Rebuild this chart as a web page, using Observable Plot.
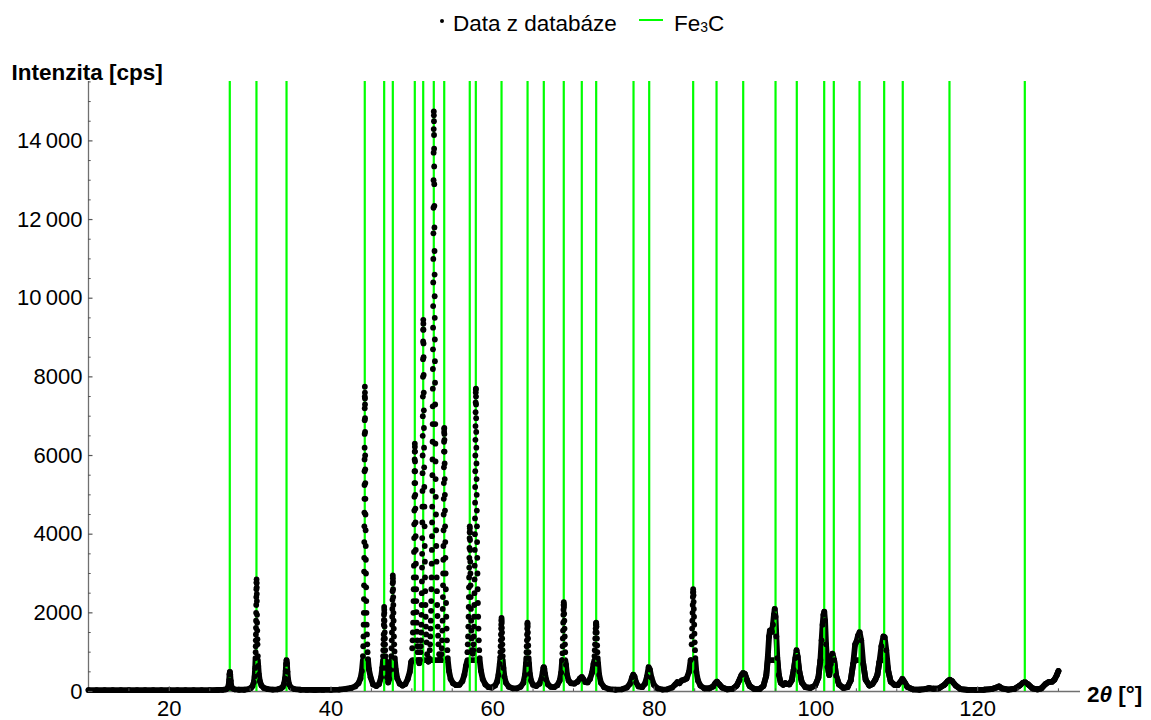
<!DOCTYPE html>
<html>
<head>
<meta charset="utf-8">
<script src="https://cdn.jsdelivr.net/npm/d3@7"></script>
<script src="https://cdn.jsdelivr.net/npm/@observablehq/plot@0.6"></script>
<style>
html, body { margin: 0; padding: 0; background: #fff; }
#wrap { position: relative; width: 1151px; height: 720px; font-family: "Liberation Sans", Arial, sans-serif; color: #000; }
#legend { position: relative; height: 46px; font-size: 22.5px; line-height: 26px; }
#legend .dot { position: absolute; left: 439.5px; top: 18.8px; width: 4.6px; height: 4.6px; border-radius: 50%; background: #000; }
#legend .t1 { position: absolute; left: 453px; top: 11px; white-space: nowrap; }
#legend .sw { position: absolute; left: 639px; top: 18.5px; width: 24px; height: 2.4px; background: #00ff00; }
#legend .t2 { position: absolute; left: 674px; top: 11px; white-space: nowrap; }
#legend .t2 span { font-size: 0.62em; vertical-align: -1px; }
#chart svg { display: block; }
</style>
</head>
<body>
<div id="wrap">
  <div id="legend">
    <div class="dot"></div><div class="t1">Data z databáze</div>
    <div class="sw"></div><div class="t2">Fe<span>3</span>C</div>
  </div>
  <div id="chart"></div>
</div>
<script>
// ---- Data ----
// Diffraction scan: [2θ (°), intensity (cps)]
const scan = [
[10,35],[11,35],[12,35],[13,35],[14,35],[15,35],[16,35],[17,35],[18,35],[19,35],[20,35],[21,35],[22,35],[23,35],[24,35],[25,35],[26,38],[26.6,42],[27.0,55],[27.2,80],[27.32,140],[27.4,280],[27.45,440],[27.49,500],[27.53,430],[27.59,270],[27.67,140],[27.8,80],[28.1,55],[28.6,45],[29.3,45],[29.8,60],[30.1,90],
[30.3,140],[30.45,230],[30.55,380],[30.62,600],[30.66,850],[30.68,1000],[30.69,1150],[30.70,1300],[30.71,1450],[30.72,1620],[30.73,1800],[30.74,2000],[30.75,2200],[30.76,2400],[30.77,2600],[30.78,2780],[30.79,2850],[30.80,2750],[30.81,2650],[30.82,2480],[30.83,2300],[30.85,1950],[30.86,1750],[30.88,1550],[30.90,1330],[30.91,1200],[30.95,900],[31.0,650],[31.08,430],[31.2,260],[31.4,150],[31.7,90],[32.2,60],[32.8,50],[33.4,55],[33.8,80],[34.05,120],
[34.2,200],[34.32,330],[34.4,520],[34.45,700],[34.5,800],[34.55,720],[34.61,500],[34.7,300],[34.82,180],[35.05,100],[35.5,60],[36.2,45],[37,40],[38,38],[39,40],[40,42],[41,50],[41.8,65],[42.5,90],[43.0,130],[43.4,210],[43.65,330],[43.82,520],
[43.95,900],[43.99,1150],[44.02,1400],[44.04,1700],[44.06,2000],[44.075,2350],[44.09,2700],[44.10,3050],[44.11,3400],[44.12,3800],[44.13,4200],[44.135,4550],[44.14,4900],[44.145,5250],[44.15,5600],[44.155,5900],[44.16,6200],[44.165,6550],[44.17,6900],[44.175,7200],[44.18,7500],[44.19,7750],[44.2,7600],[44.205,7450],[44.21,7300],[44.215,6950],[44.22,6600],[44.23,6000],[44.24,5650],[44.25,5300],[44.26,4900],[44.27,4500],[44.285,4100],[44.3,3700],[44.315,3350],[44.33,3000],[44.35,2650],[44.37,2300],[44.395,2000],[44.42,1700],[44.45,1450],[44.49,1200],[44.53,1000],[44.58,820],[44.7,560],[44.9,360],[45.2,180],[45.6,140],[45.95,190],[46.2,360],[46.35,600],
[46.44,900],[46.47,1050],[46.49,1200],[46.51,1330],[46.52,1450],[46.54,1700],[46.55,1820],[46.56,1950],[46.58,2150],[46.59,2080],[46.6,2000],[46.62,1800],[46.63,1650],[46.65,1500],[46.67,1350],[46.69,1200],[46.71,1050],[46.74,900],[46.82,600],[46.93,360],[47.08,230],[47.22,320],[47.35,550],
[47.46,900],[47.49,1100],[47.52,1300],[47.54,1500],[47.56,1700],[47.575,1900],[47.59,2100],[47.605,2330],[47.62,2550],[47.635,2750],[47.65,2950],[47.66,2880],[47.67,2800],[47.685,2600],[47.7,2400],[47.715,2200],[47.73,2000],[47.75,1800],[47.77,1600],[47.79,1400],[47.82,1200],[47.86,1020],[47.9,850],[48.02,550],[48.2,330],[48.5,200],[48.85,150],[49.2,190],[49.5,320],[49.75,500],[49.92,750],
[50.05,1100],[50.09,1300],[50.13,1500],[50.16,1750],[50.19,2000],[50.21,2300],[50.23,2600],[50.245,2900],[50.26,3200],[50.275,3550],[50.29,3900],[50.3,4250],[50.31,4600],[50.32,4950],[50.33,5300],[50.34,5600],[50.35,5900],[50.36,6100],[50.37,6300],[50.38,6220],[50.39,6100],[50.4,5850],[50.41,5600],[50.42,5300],[50.43,5000],[50.445,4650],[50.46,4300],[50.475,3950],[50.49,3600],[50.505,3250],[50.52,2900],[50.54,2600],[50.56,2300],[50.585,2020],[50.61,1750],[50.64,1520],[50.67,1300],[50.7,1150],[50.74,1000],[50.83,800],[50.92,720],
[51.0,800],[51.07,1000],[51.1,1150],[51.13,1300],[51.16,1500],[51.18,1700],[51.2,1950],[51.22,2200],[51.235,2500],[51.25,2800],[51.265,3150],[51.28,3500],[51.29,3900],[51.3,4300],[51.31,4700],[51.32,5100],[51.33,5550],[51.34,6000],[51.35,6500],[51.36,7000],[51.37,7500],[51.38,8000],[51.39,8450],[51.4,8900],[51.41,9200],[51.42,9450],[51.43,9350],[51.44,9200],[51.45,8850],[51.46,8500],[51.47,8050],[51.48,7600],[51.49,7150],[51.5,6700],[51.515,6200],[51.53,5700],[51.545,5200],[51.56,4700],[51.58,4200],[51.6,3700],[51.62,3300],[51.64,2900],[51.665,2550],[51.69,2200],[51.72,1900],[51.75,1650],[51.78,1450],[51.82,1250],[51.9,950],[51.98,780],[52.06,760],
[52.14,850],[52.22,1050],[52.26,1200],[52.29,1400],[52.32,1600],[52.35,1800],[52.38,2050],[52.4,2300],[52.42,2600],[52.44,2900],[52.46,3250],[52.48,3600],[52.495,3950],[52.51,4300],[52.525,4700],[52.54,5100],[52.55,5500],[52.56,5900],[52.57,6350],[52.58,6800],[52.59,7250],[52.6,7700],[52.61,8200],[52.62,8700],[52.63,9250],[52.64,9800],[52.65,10400],[52.66,11000],[52.67,11650],[52.68,12300],[52.69,13000],[52.7,13700],[52.71,14300],[52.72,14750],[52.73,14650],[52.74,14500],[52.75,14150],[52.76,13800],[52.77,13350],[52.78,12900],[52.79,12350],[52.8,11800],[52.81,11200],[52.82,10600],[52.83,10050],[52.84,9500],[52.85,8950],[52.86,8400],[52.875,7850],[52.89,7300],[52.905,6800],[52.92,6300],[52.935,5850],[52.95,5400],[52.97,4950],[52.99,4500],[53.01,4100],[53.03,3700],[53.055,3300],[53.08,2900],[53.11,2550],[53.14,2200],[53.175,1920],[53.21,1650],[53.25,1420],[53.29,1200],[53.38,950],[53.48,820],[53.57,800],
[53.66,950],[53.7,1100],[53.74,1300],[53.77,1550],[53.8,1800],[53.825,2100],[53.85,2400],[53.865,2700],[53.88,3000],[53.895,3350],[53.91,3700],[53.925,4100],[53.94,4500],[53.95,4900],[53.96,5300],[53.97,5700],[53.98,6100],[53.99,6350],[54.0,6600],[54.01,6680],[54.02,6700],[54.03,6550],[54.04,6400],[54.05,6100],[54.06,5800],[54.075,5400],[54.09,5000],[54.105,4600],[54.12,4200],[54.14,3800],[54.16,3400],[54.185,3000],[54.21,2600],[54.24,2250],[54.27,1900],[54.31,1600],[54.35,1300],[54.4,1050],[54.45,850],[54.6,520],[54.8,320],[55.1,210],[55.5,160],[55.9,170],[56.25,260],[56.5,420],[56.7,650],
[56.88,1000],[56.92,1200],[56.96,1400],[56.99,1650],[57.02,1900],[57.04,2150],[57.06,2400],[57.075,2650],[57.09,2900],[57.105,3150],[57.12,3400],[57.135,3650],[57.15,3900],[57.16,4050],[57.17,4200],[57.18,4150],[57.19,4050],[57.205,3850],[57.22,3600],[57.235,3300],[57.25,3000],[57.27,2700],[57.29,2400],[57.315,2100],[57.34,1800],[57.37,1550],[57.4,1350],[57.47,1050],[57.54,960],
[57.6,1050],[57.63,1200],[57.66,1400],[57.685,1650],[57.71,1900],[57.73,2200],[57.75,2500],[57.765,2850],[57.78,3200],[57.795,3600],[57.81,4000],[57.82,4400],[57.83,4800],[57.84,5200],[57.85,5600],[57.86,6000],[57.87,6400],[57.88,6750],[57.89,7100],[57.9,7350],[57.91,7600],[57.92,7680],[57.93,7700],[57.94,7500],[57.95,7300],[57.96,6950],[57.97,6600],[57.985,6200],[58.0,5800],[58.015,5400],[58.03,5000],[58.045,4600],[58.06,4200],[58.08,3800],[58.1,3400],[58.125,3000],[58.15,2600],[58.18,2250],[58.21,1900],[58.25,1600],[58.29,1300],[58.34,1050],[58.4,850],[58.55,530],[58.78,310],[59.1,180],[59.5,110],[59.9,100],[60.3,150],[60.55,250],[60.72,420],
[60.88,700],[60.93,870],[60.96,1000],[60.99,1150],[61.01,1300],[61.03,1450],[61.05,1600],[61.065,1700],[61.08,1800],[61.1,1870],[61.115,1820],[61.13,1750],[61.145,1620],[61.16,1500],[61.18,1350],[61.2,1200],[61.225,1050],[61.25,900],[61.33,600],[61.45,380],[61.65,220],[62.0,120],[62.5,80],[63.0,80],[63.45,120],[63.8,220],[64.0,420],
[64.12,700],[64.16,850],[64.19,1000],[64.215,1150],[64.24,1300],[64.26,1450],[64.28,1600],[64.295,1700],[64.31,1750],[64.325,1720],[64.34,1650],[64.36,1500],[64.38,1350],[64.405,1170],[64.43,1000],[64.46,850],[64.5,700],[64.6,450],[64.75,280],[65.0,170],[65.4,140],[65.8,200],[66.05,330],
[66.2,500],[66.28,600],[66.33,620],[66.39,580],[66.48,450],[66.62,300],[66.85,180],[67.2,120],[67.6,110],[68.0,160],[68.3,280],[68.48,480],
[68.6,800],[68.63,970],[68.66,1150],[68.685,1350],[68.71,1550],[68.73,1750],[68.75,1950],[68.765,2080],[68.78,2200],[68.8,2270],[68.815,2220],[68.83,2150],[68.85,1980],[68.87,1800],[68.895,1600],[68.92,1400],[68.95,1200],[68.98,1000],[69.07,680],[69.2,430],[69.4,280],[69.7,210],[70.1,200],[70.5,250],[70.8,330],
[71.03,370],[71.2,320],[71.45,240],[71.75,230],[72.05,320],[72.3,480],[72.48,700],
[72.6,900],[72.635,1050],[72.67,1200],[72.695,1350],[72.72,1500],[72.745,1600],[72.77,1700],[72.79,1740],[72.81,1750],[72.83,1710],[72.85,1650],[72.875,1500],[72.9,1350],[72.93,1170],[72.96,1000],[73.0,850],[73.05,700],[73.18,420],[73.4,220],[73.8,110],[74.4,60],[75.2,45],[76.0,55],[76.6,100],[77.0,200],[77.25,360],
[77.4,430],[77.55,380],[77.75,230],[78.05,130],[78.5,110],[78.85,200],[79.1,380],[79.3,620],[79.45,560],[79.65,350],[79.95,170],[80.4,80],[81.0,50],[81.6,55],[82.2,100],[82.6,180],[82.85,240],[83.1,210],[83.4,280],[83.7,300],[84.0,330],[84.3,500],[84.5,800],
[84.62,1200],[84.65,1400],[84.68,1600],[84.705,1800],[84.73,2000],[84.75,2200],[84.77,2400],[84.79,2520],[84.81,2600],[84.83,2530],[84.85,2450],[84.87,2280],[84.89,2100],[84.915,1900],[84.94,1700],[84.97,1470],[85.0,1250],[85.04,1050],[85.08,850],[85.2,500],[85.4,280],[85.7,150],[86.2,80],[86.8,80],[87.3,130],[87.55,210],[87.75,250],[88.0,190],[88.4,100],[89.0,55],[89.7,70],[90.2,150],[90.55,300],[90.8,420],[91.0,470],[91.2,450],[91.45,300],[91.8,140],[92.4,60],[93.0,60],[93.5,140],[93.85,400],
[94.05,900],[94.2,1400],[94.3,1550],[94.42,1560],[94.55,1520],[94.68,1700],[94.8,1950],[94.9,2100],[95.0,1900],[95.1,1400],[95.22,850],[95.4,420],[95.65,220],[95.95,170],[96.2,210],[96.45,190],[96.7,180],[97.0,280],[97.25,550],[97.45,850],[97.6,1050],[97.75,880],[97.95,500],[98.25,230],[98.7,110],[99.3,90],[99.9,150],[100.3,350],
[100.55,800],[100.7,1300],[100.82,1700],[100.93,1950],[101.03,2030],[101.13,1800],[101.25,1200],[101.42,620],[101.65,420],[101.85,700],[102.05,960],[102.25,800],[102.5,400],[102.85,180],[103.4,90],[103.9,110],[104.3,280],[104.6,700],[104.85,1200],[105.0,1260],[105.2,1420],[105.4,1510],[105.6,1300],[105.85,700],[106.15,300],[106.6,150],[107.0,190],[107.35,300],[107.6,420],[107.85,750],[108.1,1150],[108.35,1400],[108.5,1380],[108.7,1050],[108.95,520],[109.25,250],[109.7,170],[110.1,160],[110.45,240],[110.7,320],[110.95,240],[111.3,120],[112.0,55],[112.8,45],[113.5,60],[114.0,85],[114.5,70],[115.2,80],[115.9,170],[116.3,260],[116.55,300],[116.85,260],[117.3,150],[117.9,60],[118.8,40],[119.8,40],[120.8,45],[121.7,60],[122.3,100],[122.65,130],[123.0,80],[123.8,50],[124.6,70],[125.2,150],[125.6,220],[125.85,240],[126.2,190],[126.8,80],[127.4,55],[127.9,80],[128.4,190],[128.8,240],[129.2,250],[129.5,300],[129.8,420],[130.0,520]
];

// Fe3C reference line positions (2θ, °)
const fe3cLines = [27.48, 30.78, 34.50, 44.18, 46.58, 47.65, 50.37, 51.41, 52.72, 54.01, 57.17, 57.92,
  61.10, 64.32, 66.33, 68.80, 71.03, 72.81, 77.43, 79.37, 84.81, 87.70, 91.00, 95.00, 97.63,
  101.02, 102.21, 105.39, 108.44, 110.74, 116.52, 125.84];

// Axes ticks and labels
const xTicks = [20, 40, 60, 80, 100, 120];
const yTicks = [0, 2000, 4000, 6000, 8000, 10000, 12000, 14000];
const yTickLabels = ["0", "2000", "4000", "6000", "8000", "10\u2009000", "12\u2009000", "14\u2009000"];
const yAxisTitle = "Intenzita [cps]";
const xAxisTitle = "2θ [°]";

// ---- Layout ----
const W = 1151, H = 674, mL = 88, mR = 71, mT = 35, mB = 29;
const xDom = [10, 132.73], yDom = [0, 15510];
const degPerPx = (xDom[1] - xDom[0]) / (W - mL - mR);
const cpsPerPx = (yDom[1] - yDom[0]) / (H - mT - mB);
const xMinor = d3.range(15, 131, 5).filter(v => !xTicks.includes(v));
const yMinor = d3.range(500, 15501, 500).filter(v => !yTicks.includes(v));
const axisColor = "#707070";
const tickColor = "#555";
const cap = 800;
const font = "'Liberation Sans', Arial, sans-serif";

const X = d => d[0], Y = d => d[1];

const chart = Plot.plot({
  width: W, height: H,
  marginLeft: mL, marginRight: mR, marginTop: mT, marginBottom: mB,
  x: {domain: xDom},
  y: {domain: yDom},
  style: {fontFamily: font, fontSize: "22px", color: "black", background: "white", overflow: "visible"},
  marks: [
    Plot.ruleY([0], {stroke: axisColor, strokeWidth: 1.3}),
    Plot.ruleX([xDom[0]], {stroke: axisColor, strokeWidth: 1.3}),
    // dense low part of the scan (dots merge into a thick band)
    Plot.line(scan, {x: X, y: d => Math.min(d[1], cap), stroke: "black", strokeWidth: 5.8, strokeLinejoin: "round", strokeLinecap: "round"}),
    // broad high-angle peaks, where the dots merge completely
    Plot.line(scan.filter(d => d[0] >= 86), {x: X, y: Y, stroke: "black", strokeWidth: 5.8, strokeLinejoin: "round", strokeLinecap: "round"}),
    Plot.ruleX(fe3cLines, {stroke: "#00ff00", strokeWidth: 2.2}),
    Plot.dot(scan, {x: X, y: Y, r: 2.9, fill: "black"}),
    // ticks (inward, Mathematica style)
    Plot.ruleY(yTicks, {y: d => d, x1: xDom[0], x2: xDom[0] + 4.5 * degPerPx, stroke: tickColor, strokeWidth: 1.2}),
    Plot.ruleY(yMinor, {y: d => d, x1: xDom[0], x2: xDom[0] + 2.7 * degPerPx, stroke: tickColor, strokeWidth: 1}),
    Plot.ruleX(xTicks, {x: d => d, y1: 0, y2: 4.5 * cpsPerPx, stroke: tickColor, strokeWidth: 1.2}),
    Plot.ruleX(xMinor, {x: d => d, y1: 0, y2: 2.7 * cpsPerPx, stroke: tickColor, strokeWidth: 1}),
    Plot.axisY({ticks: yTicks, tickSize: 0, tickPadding: 6, label: null, fontSize: 22,
      tickFormat: d => yTickLabels[yTicks.indexOf(d)]}),
    Plot.axisX({ticks: xTicks, tickSize: 0, tickPadding: 9, label: null, fontSize: 22,
      tickFormat: d => String(d)}),
    Plot.text([yAxisTitle], {text: d => d, frameAnchor: "top-left", dx: -77, dy: -9.2,
      textAnchor: "start", lineAnchor: "middle", fontWeight: "bold", fontSize: 22.5}),
    Plot.text([xAxisTitle], {text: d => d, frameAnchor: "bottom-right", dx: 6.5, dy: 3.5,
      textAnchor: "start", lineAnchor: "middle", fontWeight: "bold", fontSize: 22.5})
  ]
});

document.getElementById("chart").appendChild(chart);

// italic theta in the x-axis title
chart.querySelectorAll("text").forEach(t => {
  if (t.textContent === xAxisTitle) {
    const ns = "http://www.w3.org/2000/svg";
    while (t.firstChild) t.removeChild(t.firstChild);
    const a = document.createElementNS(ns, "tspan"); a.textContent = "2";
    const b = document.createElementNS(ns, "tspan"); b.textContent = "θ"; b.setAttribute("font-style", "italic");
    const c = document.createElementNS(ns, "tspan"); c.textContent = " [°]";
    t.appendChild(a); t.appendChild(b); t.appendChild(c);
  }
});
</script>
</body>
</html>
